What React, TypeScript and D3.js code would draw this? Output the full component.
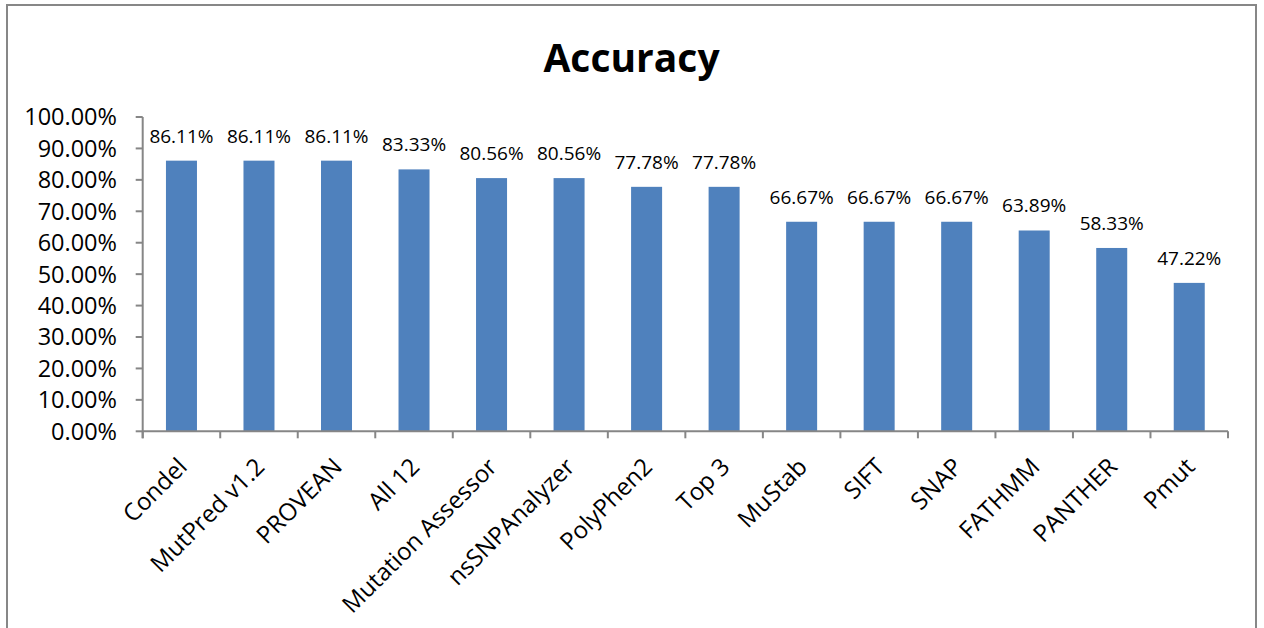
import React from "react";
import * as d3 from "d3";

const categories = [
  "Condel", "MutPred v1.2", "PROVEAN", "All 12", "Mutation Assessor", "nsSNPAnalyzer",
  "PolyPhen2", "Top 3", "MuStab", "SIFT", "SNAP", "FATHMM", "PANTHER", "Pmut",
];
const accuracy = [86.11, 86.11, 86.11, 83.33, 80.56, 80.56, 77.78, 77.78, 66.67, 66.67, 66.67, 63.89, 58.33, 47.22];
const yTicks = [0, 10, 20, 30, 40, 50, 60, 70, 80, 90, 100];
const title = "Accuracy";

const W = 1264;
const H = 628;
const FONT = "'Open Sans', 'Liberation Sans', sans-serif";
const AXIS = "#868686";
const BAR = "#4F81BD";

export default function App() {
  const left = 142.7;
  const right = 1228;
  const top = 117;
  const bottom = 431.3;

  const x = d3.scaleBand<string>().domain(categories).range([left, right]).paddingInner(0.6).paddingOuter(0.3);
  const y = d3.scaleLinear().domain([0, 100]).range([bottom, top]);
  const step = x.step();
  const boundaries = d3.range(categories.length + 1).map((i) => left + i * step);

  return (
    <div style={{ position: "absolute", left: 0, top: 0, width: W, height: H, background: "#fff" }}>
      <svg width={W} height={H} style={{ display: "block" }}>
        <rect x={7} y={5} width={1249} height={700} fill="#fff" stroke="#878787" strokeWidth={2} />
        <text x={631.5} y={72} textAnchor="middle" fontFamily={FONT} fontWeight="bold" fontSize={39} fill="#000">
          {title}
        </text>
        {categories.map((c, i) => (
          <rect key={c} x={x(c)} y={y(accuracy[i])} width={x.bandwidth()} height={bottom - y(accuracy[i])} fill={BAR} />
        ))}
        {categories.map((c, i) => (
          <text key={"l" + c} x={(x(c) as number) + x.bandwidth() / 2} y={y(accuracy[i]) - 18} textAnchor="middle"
            fontFamily={FONT} fontSize={19} fill="#000">
            {accuracy[i].toFixed(2) + "%"}
          </text>
        ))}
        <line x1={left} x2={left} y1={top} y2={bottom + 7} stroke={AXIS} strokeWidth={2} />
        <line x1={left} x2={right} y1={bottom} y2={bottom} stroke={AXIS} strokeWidth={2} />
        {yTicks.map((t) => (
          <g key={"y" + t}>
            <line x1={left - 7} x2={left} y1={y(t)} y2={y(t)} stroke={AXIS} strokeWidth={2} />
            <text x={117} y={y(t)} dy="0.36em" textAnchor="end" fontFamily={FONT} fontSize={23.5} fill="#000">
              {t.toFixed(2) + "%"}
            </text>
          </g>
        ))}
        {boundaries.map((b, i) => (
          <line key={"xt" + i} x1={b} x2={b} y1={bottom} y2={bottom + 7} stroke={AXIS} strokeWidth={2} />
        ))}
        {categories.map((c) => {
          const cx = (x(c) as number) + x.bandwidth() / 2 + 7;
          const cy = bottom + 37;
          return (
            <text key={"x" + c} x={cx} y={cy} textAnchor="end" transform={`rotate(-45 ${cx} ${cy})`}
              fontFamily={FONT} fontSize={24} fill="#000">
              {c}
            </text>
          );
        })}
      </svg>
    </div>
  );
}
